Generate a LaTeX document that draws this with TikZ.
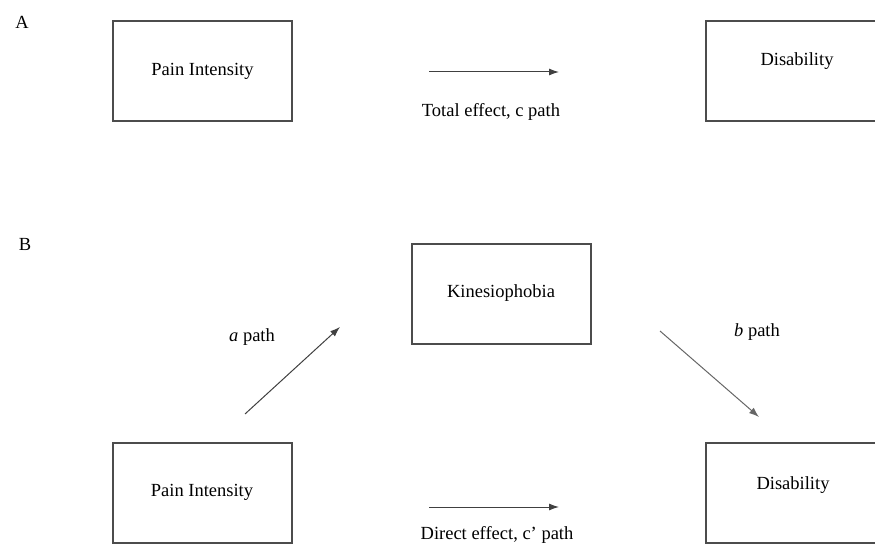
\documentclass[tikz,border=0pt]{standalone}
\usepackage{fontspec}
\setmainfont{Liberation Serif}
\usetikzlibrary{arrows.meta}
\tikzset{
  box/.style={draw=black!70, line width=1.2pt, minimum width=179pt, minimum height=100pt, inner sep=0pt},
  lbl/.style={font=\fontsize{18.5}{20}\selectfont, inner sep=0pt},
  arr/.style={draw=black!75, line width=1pt, -{Latex[length=10pt,width=7pt]}},
}
\begin{document}
\begin{tikzpicture}[x=1pt,y=-1pt]
\useasboundingbox (0,0) rectangle (875,545);
% panel A
\node[lbl] (labA) at (22,22) {A};
\node[box] (pain1) at (202.5,71) {};
\node[lbl] (pain1t) at (pain1.center) {Pain Intensity};
\node[box] (dis1) at (795.5,71) {};
\node[lbl] (dis1t) at (797,61) {Disability};
\coordinate (c1s) at (429,72);
\coordinate (c1e) at (559,72);
\draw[arr] (c1s) -- (c1e);
\node[lbl] (ctext) at (491,112) {Total effect, c path};
% panel B
\node[lbl] (labB) at (25,244) {B};
\node[box] (kin) at (501.5,294) {};
\node[lbl] (kint) at (501,293) {Kinesiophobia};
\node[box] (pain2) at (202.5,493) {};
\node[lbl] (pain2t) at (202,492) {Pain Intensity};
\node[box] (dis2) at (795.5,493) {};
\node[lbl] (dis2t) at (793,485) {Disability};
\coordinate (as) at (245,414);
\coordinate (ae) at (340,327);
\draw[arr] (as) -- (ae);
\node[lbl] (atext) at (252,337) {\textit{a} path};
\coordinate (bs) at (660,331);
\coordinate (be) at (759,417);
\draw[arr, draw=black!60] (bs) -- (be);
\node[lbl] (btext) at (757,332) {\textit{b} path};
\coordinate (ds) at (429,507);
\coordinate (de) at (559,507);
\draw[arr] (ds) -- (de);
\node[lbl] (dtext) at (497,535) {Direct effect, c’ path};
\end{tikzpicture}
\end{document}
